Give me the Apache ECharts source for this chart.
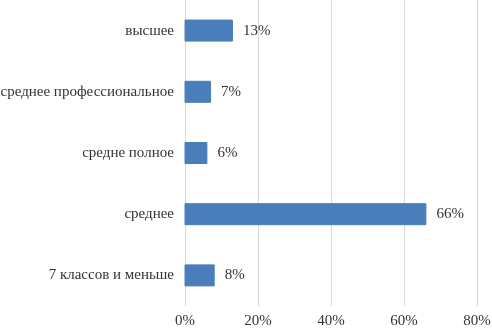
<!DOCTYPE html>
<html><head><meta charset="utf-8">
<script src="https://cdn.jsdelivr.net/npm/echarts@6/dist/echarts.min.js"></script>
<style>html,body{margin:0;padding:0;background:#fff}#c{width:492px;height:328px}</style>
</head><body><div id="c"></div>
<script>
const categories = ["7 классов и меньше", "среднее", "средне полное", "среднее профессиональное", "высшее"];
const values = [8, 66, 6, 7, 13];
const tickLabels = ["0%", "20%", "40%", "60%", "80%"];

const chart = echarts.init(document.getElementById('c'));
const font = '"Liberation Serif", "Times New Roman", serif';
chart.setOption({
  animation: false,
  grid: {left: 185, right: 15, top: 0, bottom: 22, containLabel: false, outerBoundsMode: 'none'},
  xAxis: {
    type: 'value', min: 0, max: 80, interval: 20,
    axisLine: {show: false}, axisTick: {show: false},
    splitLine: {show: true, lineStyle: {color: '#d9d9d9', width: 1}},
    axisLabel: {formatter: v => tickLabels[v / 20], color: '#333', fontFamily: font, fontSize: 15, margin: 8}
  },
  yAxis: {
    type: 'category', data: categories,
    axisLine: {show: true, lineStyle: {color: '#d9d9d9'}}, axisTick: {show: false},
    axisLabel: {color: '#333', fontFamily: font, fontSize: 15, margin: 11}
  },
  series: [{
    type: 'bar', data: values, barWidth: 21,
    itemStyle: {color: '#4a7ebb', borderColor: '#4a7ebb'},
    label: {show: true, position: 'right', distance: 10, formatter: p => p.value + '%', color: '#333', fontFamily: font, fontSize: 15}
  }]
});
</script></body></html>
